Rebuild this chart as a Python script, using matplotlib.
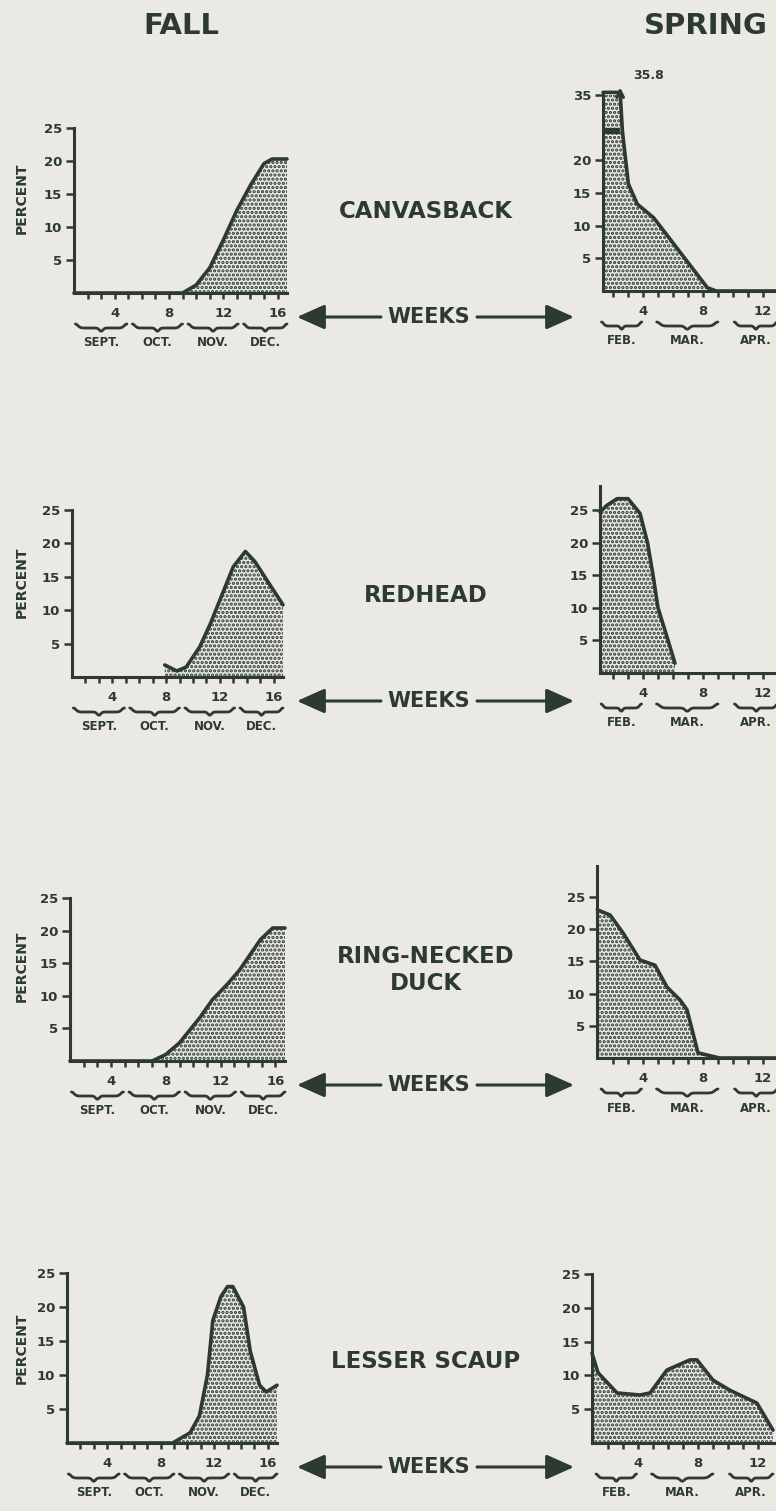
import matplotlib
matplotlib.use('Agg')
import matplotlib.pyplot as plt
import numpy as np
from matplotlib.patches import FancyArrowPatch, ArrowStyle
from matplotlib.transforms import blended_transform_factory

BG = '#ebe9e3'
INK = '#2c3a33'
W, H = 776, 1511

plt.rcParams['font.family'] = ['DejaVu Sans']
plt.rcParams['font.weight'] = 'bold'
plt.rcParams['hatch.linewidth'] = 1.6
plt.rcParams['hatch.color'] = INK

# ---------------- data ----------------
species = ['CANVASBACK', 'REDHEAD', 'RING-NECKED\nDUCK', 'LESSER SCAUP']

fall_canvasback_weeks = [1.0, 9.0, 10.0, 11.0, 12.0, 13.0, 14.0, 15.0, 15.6, 16.7]
fall_canvasback_pct = [0, 0, 1.2, 3.8, 8.0, 12.5, 16.3, 19.6, 20.3, 20.3]

fall_redhead_weeks = [7.9, 8.8, 9.5, 10.5, 11.3, 12.0, 13.0, 13.9, 14.6, 15.5, 16.7]
fall_redhead_pct = [1.8, 0.9, 1.5, 4.5, 8.0, 11.5, 16.5, 18.8, 17.3, 14.5, 10.8]

fall_ring_weeks = [1.0, 7.0, 8.0, 9.0, 10.5, 11.4, 12.5, 13.4, 14.9, 15.8, 16.7]
fall_ring_pct = [0, 0, 1.0, 2.8, 6.7, 9.4, 11.8, 14.0, 18.6, 20.4, 20.4]

fall_scaup_weeks = [1.0, 8.9, 10.2, 10.9, 11.5, 11.9, 12.5, 13.0, 13.4, 14.2, 14.7, 15.4, 15.9, 16.7]
fall_scaup_pct = [0, 0, 1.5, 4.0, 10.0, 18.0, 21.5, 23.0, 23.0, 20.0, 13.5, 8.5, 7.5, 8.5]

spring_canvasback_weeks = [1.3, 2.45, 2.6, 3.0, 3.6, 4.7, 8.3, 8.9, 12.9]
spring_canvasback_pct = [35.8, 35.8, 24.5, 16.4, 13.3, 11.2, 0.5, 0, 0]

spring_redhead_weeks = [1.13, 1.6, 2.27, 3.0, 3.8, 4.3, 4.67, 5.0, 5.67, 6.13]
spring_redhead_pct = [24.7, 26.5, 28.5, 28.5, 24.5, 20.0, 15.0, 10.0, 5.0, 1.5]

spring_ring_weeks = [0.95, 1.8, 2.67, 3.8, 4.8, 5.6, 6.47, 6.93, 7.67, 9.1, 12.9]
spring_ring_pct = [23.0, 22.2, 19.4, 15.2, 14.4, 11.0, 9.0, 7.5, 0.8, 0, 0]

spring_scaup_weeks = [0.93, 1.33, 2.6, 4.13, 4.8, 5.93, 7.47, 7.93, 9.0, 10.13, 11.93, 13.0]
spring_scaup_pct = [13.3, 10.4, 7.4, 7.1, 7.4, 10.8, 12.3, 12.3, 9.3, 7.8, 5.9, 1.9]

fall_series = [(fall_canvasback_weeks, fall_canvasback_pct),
               (fall_redhead_weeks, fall_redhead_pct),
               (fall_ring_weeks, fall_ring_pct),
               (fall_scaup_weeks, fall_scaup_pct)]
spring_series = [(spring_canvasback_weeks, spring_canvasback_pct),
                 (spring_redhead_weeks, spring_redhead_pct),
                 (spring_ring_weeks, spring_ring_pct),
                 (spring_scaup_weeks, spring_scaup_pct)]

fall_minor_weeks = list(range(2, 17))
fall_major_weeks = [4, 8, 12, 16]
spring_minor_weeks = list(range(2, 13))
spring_major_weeks = [4, 8, 12]
percent_ticks = [5, 10, 15, 20, 25]
fall_months = ['SEPT.', 'OCT.', 'NOV.', 'DEC.']
fall_month_spans = [(1.1, 4.9), (5.3, 9.0), (9.4, 13.1), (13.5, 16.7)]
spring_months = ['FEB.', 'MAR.', 'APR.']
spring_month_spans = [(1.2, 3.9), (4.9, 9.0), (10.1, 13.0)]

# ---------------- layout (pixels) ----------------
fall_geom = [  # left, right, y0, ytop
    (74, 287, 293, 128),
    (72, 283, 677, 510),
    (70, 285, 1061, 898),
    (67, 277, 1443, 1273),
]
fall_xlim = (1.0, 16.7)
fall_ylim = (0, 25)

spring_geom = [
    (603, 776, 291, 95),
    (600, 776, 673, 486),
    (597, 776, 1058, 866),
    (592, 776, 1443, 1274),
]
spring_xlims = [(1.3, 12.9), (1.13, 12.87), (0.93, 12.87), (0.93, 13.2)]
spring_ylims = [(0, 30), (0, 28.7), (0, 29.8), (0, 25)]

fig = plt.figure(figsize=(W / 100, H / 100), dpi=100)
fig.patch.set_facecolor(BG)


def fx(px):
    return px / W


def fy(py):
    return 1 - py / H


def make_ax(g, xlim, ylim):
    left, right, y0, ytop = g
    ax = fig.add_axes([fx(left), fy(y0), (right - left) / W, (y0 - ytop) / H])
    ax.set_facecolor('none')
    ax.set_xlim(*xlim)
    ax.set_ylim(*ylim)
    for s in ['top', 'right']:
        ax.spines[s].set_visible(False)
    for s in ['left', 'bottom']:
        ax.spines[s].set_linewidth(2.2)
        ax.spines[s].set_color(INK)
        ax.spines[s].set_capstyle('projecting')
    ax.tick_params(axis='x', which='both', direction='out', length=4, width=1.8,
                   color=INK, labelsize=9.5, pad=6, labelcolor=INK)
    ax.tick_params(axis='y', which='both', direction='out', length=6, width=1.8,
                   color=INK, labelsize=9.5, pad=2.5, labelcolor=INK)
    return ax


def brace(ax, x0, x1, ypx):
    tr = blended_transform_factory(ax.transData, fig.transFigure)
    t = np.linspace(0, 1, 80)
    h = 4.0
    prof = (h * np.exp(-(t / 0.07) ** 2) + h * np.exp(-((1 - t) / 0.07) ** 2)
            - 0.8 * h * np.exp(-((t - 0.5) / 0.05) ** 2))
    xs = x0 + (x1 - x0) * t
    ys = fy(ypx - prof + 0.0)
    ax.plot(xs, ys, transform=tr, color=INK, lw=2.0, clip_on=False,
            solid_capstyle='round')


def spring_disp(v):
    v = np.asarray(v, dtype=float)
    return np.where(v > 25, 25 + (v - 25) * 0.5, v)


# ---------------- titles ----------------
fig.text(fx(181), fy(26), 'FALL', ha='center', va='center', fontsize=21,
         color=INK, fontweight='bold')
fig.text(fx(706), fy(26), 'SPRING', ha='center', va='center', fontsize=21,
         color=INK, fontweight='bold')

for i in range(4):
    # ---- fall panel ----
    g = fall_geom[i]
    ax = make_ax(g, fall_xlim, fall_ylim)
    wk, pc = fall_series[i]
    ax.fill_between(wk, 0, pc, facecolor='none', edgecolor=INK, hatch='....',
                    linewidth=0)
    ax.plot(wk, pc, color=INK, lw=2.6, solid_capstyle='round',
            solid_joinstyle='round', clip_on=False)
    ax.set_xticks(fall_major_weeks)
    ax.set_xticklabels([str(v) for v in fall_major_weeks])
    ax.set_xticks(fall_minor_weeks, minor=True)
    ax.set_yticks(percent_ticks)
    ax.set_yticklabels([str(v) for v in percent_ticks])
    y0 = g[2]
    for (a, b), m in zip(fall_month_spans, fall_months):
        brace(ax, a, b, y0 + 35)
        tr = blended_transform_factory(ax.transData, fig.transFigure)
        ax.text((a + b) / 2, fy(y0 + 50), m, transform=tr, ha='center',
                va='center', fontsize=8.5, color=INK, fontweight='bold')
    fig.text(fx(22), fy(y0 - 95), 'PERCENT', rotation=90, ha='center',
             va='center', fontsize=10, color=INK, fontweight='bold')

    # ---- spring panel ----
    g2 = spring_geom[i]
    ax2 = make_ax(g2, spring_xlims[i], spring_ylims[i])
    wk2, pc2 = spring_series[i]
    d2 = spring_disp(pc2)
    ax2.fill_between(wk2, 0, d2, facecolor='none', edgecolor=INK, hatch='....',
                     linewidth=0)
    ax2.plot(wk2, d2, color=INK, lw=2.6, solid_capstyle='round',
             solid_joinstyle='round', clip_on=False)
    ax2.set_xticks(spring_major_weeks)
    ax2.set_xticklabels([str(v) for v in spring_major_weeks])
    ax2.set_xticks(spring_minor_weeks, minor=True)
    if i == 0:
        ax2.set_yticks([5, 10, 15, 20, 30])
        ax2.set_yticklabels(['5', '10', '15', '20', '35'])
        # axis break band and off-scale arrow
        ax2.plot([wk2[0], wk2[1]], [24.5, 24.5], color=INK, lw=4.5,
                 solid_capstyle='butt')
        ax2.annotate('', xy=(wk2[1], 31.6), xytext=(wk2[1], 29.5),
                     arrowprops=dict(arrowstyle='->', color=INK, lw=2.2,
                                     mutation_scale=12),
                     annotation_clip=False)
        ax2.text(wk2[1] + 0.9, 33.0, f'{pc2[0]}', ha='left', va='center',
                 fontsize=9, color=INK, fontweight='bold', clip_on=False)
    else:
        ax2.set_yticks(percent_ticks)
        ax2.set_yticklabels([str(v) for v in percent_ticks])
    y02 = g2[2]
    for (a, b), m in zip(spring_month_spans, spring_months):
        brace(ax2, a, b, y02 + 35)
        tr = blended_transform_factory(ax2.transData, fig.transFigure)
        ax2.text((a + b) / 2, fy(y02 + 50), m, transform=tr, ha='center',
                 va='center', fontsize=8.5, color=INK, fontweight='bold')

    # ---- middle labels ----
    lab_y = y0 - 81 if '\n' not in species[i] else y0 - 91
    fig.text(fx(426), fy(lab_y), species[i], ha='center', va='center',
             fontsize=16.5, color=INK, fontweight='bold', linespacing=1.25)
    wy = y0 + 24
    fig.text(fx(429), fy(wy), 'WEEKS', ha='center', va='center', fontsize=15,
             color=INK, fontweight='bold')
    style = ArrowStyle('-|>', head_length=0.85, head_width=0.38)
    for a, b in [((381, wy), (297, wy)), ((477, wy), (574, wy))]:
        arr = FancyArrowPatch((fx(a[0]), fy(a[1])), (fx(b[0]), fy(b[1])),
                              transform=fig.transFigure, arrowstyle=style,
                              mutation_scale=20, color=INK, lw=2.2,
                              shrinkA=0, shrinkB=0)
        fig.add_artist(arr)

fig.savefig('out.png', dpi=100, facecolor=BG)
